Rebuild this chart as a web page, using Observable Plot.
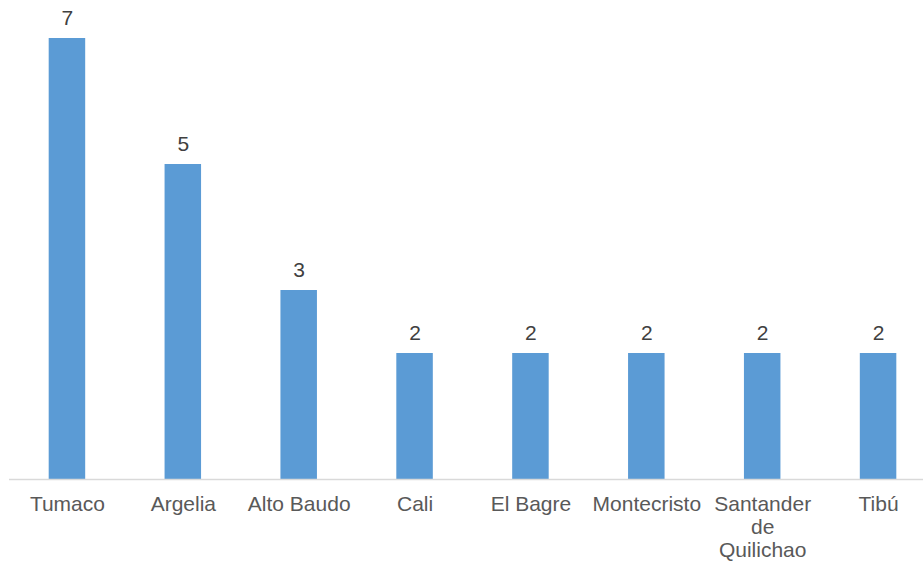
<!DOCTYPE html>
<html>
<head>
<meta charset="utf-8">
<script src="https://cdn.jsdelivr.net/npm/d3@7"></script>
<script src="https://cdn.jsdelivr.net/npm/@observablehq/plot@0.6"></script>
<style>
  html, body { margin: 0; padding: 0; background: #fff; }
  #chart svg { display: block; }
</style>
</head>
<body>
<div id="chart"></div>
<script>
const categories = ["Tumaco", "Argelia", "Alto Baudo", "Cali", "El Bagre", "Montecristo", "Santander de Quilichao", "Tibú"];
const tickLabels = ["Tumaco", "Argelia", "Alto Baudo", "Cali", "El Bagre", "Montecristo", "Santander\nde\nQuilichao", "Tibú"];
const values = [7, 5, 3, 2, 2, 2, 2, 2];

const data = categories.map((c, i) => ({category: c, value: values[i]}));
const labelOf = new Map(categories.map((c, i) => [c, tickLabels[i]]));

const chart = Plot.plot({
  width: 923,
  height: 565,
  marginLeft: 9,
  marginRight: 0,
  marginTop: 0,
  marginBottom: 86,
  style: {fontFamily: "'Liberation Sans', Arial, Helvetica, sans-serif", background: "#fff"},
  x: {domain: categories, range: [9, 936], paddingInner: 0.685, paddingOuter: 0.3425, align: 0.5, round: false},
  y: {domain: [0, 7], range: [479, 38]},
  marks: [
    Plot.barY(data, {x: "category", y: "value", fill: "#5b9bd5"}),
    Plot.ruleY([0], {stroke: "#d9d9d9", strokeWidth: 1.5}),
    Plot.text(data, {x: "category", y: "value", text: d => String(d.value), dy: -14, lineAnchor: "bottom", fontSize: 21, fill: "#404040"}),
    Plot.axisX({tickSize: 0, tickPadding: 15, fontSize: 21, fill: "#595959", lineHeight: 1.1, tickFormat: d => labelOf.get(d), label: null}),
    Plot.axisY({ticks: [], label: null})
  ]
});
document.getElementById("chart").appendChild(chart);
</script>
</body>
</html>
